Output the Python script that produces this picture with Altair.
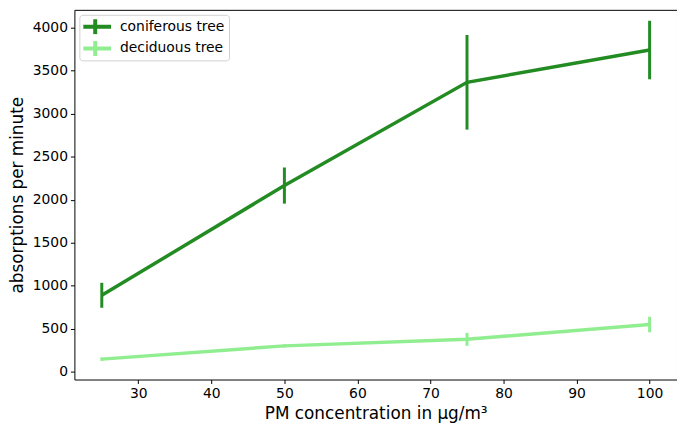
import altair as alt
import pandas as pd

pm = [25, 50, 75, 100]
coniferous = [890, 2165, 3365, 3740]
coniferous_err = [145, 210, 550, 340]
deciduous = [148, 302, 378, 550]
deciduous_err = [20, 18, 75, 90]
series = ["coniferous tree", "deciduous tree"]
colors = ["#228B22", "#90EE90"]
x_ticks = [30, 40, 50, 60, 70, 80, 90, 100]
y_ticks = [0, 500, 1000, 1500, 2000, 2500, 3000, 3500, 4000]

rows = []
for name, vals, errs in [(series[0], coniferous, coniferous_err), (series[1], deciduous, deciduous_err)]:
    for x, v, e in zip(pm, vals, errs):
        rows.append({"pm": x, "val": v, "lo": v - e, "hi": v + e, "tree": name})
df = pd.DataFrame(rows)

xs = alt.Scale(domain=[21.25, 103.75], nice=False, zero=False)
ys = alt.Scale(domain=[-89, 4207], nice=False, zero=False)
cs = alt.Scale(domain=series, range=colors)

legend = alt.Legend(
    title=None, orient="none", legendX=5, legendY=5,
    symbolType="M-2,0H2M0,-0.94V0.94", symbolSize=256, symbolStrokeWidth=4,
    fillColor="white", strokeColor="#d0d0d0", cornerRadius=3,
    padding=4, rowPadding=6, symbolOffset=2, clipHeight=16,
)

base = alt.Chart(df)

lines = base.mark_line(strokeWidth=3.5).encode(
    x=alt.X("pm:Q", scale=xs, axis=alt.Axis(values=x_ticks, format="d", title="PM concentration in μg/m³")),
    y=alt.Y("val:Q", scale=ys, axis=alt.Axis(values=y_ticks, format="d", title="absorptions per minute")),
    color=alt.Color("tree:N", scale=cs, legend=legend),
)

bars = base.mark_rule(strokeWidth=3).encode(
    x=alt.X("pm:Q", scale=xs),
    y=alt.Y("lo:Q", scale=ys),
    y2="hi:Q",
    color=alt.Color("tree:N", scale=cs, legend=legend),
)

chart = (bars + lines).properties(
    width=608, height=373, padding={"left": 0, "top": 0, "right": 0, "bottom": 0}
).configure_view(stroke="black", strokeWidth=1).configure_axis(
    grid=False, domain=False, tickColor="black", tickSize=4, tickWidth=1,
    labelFont="DejaVu Sans", labelFontSize=14, labelColor="black",
    titleFont="DejaVu Sans", titleFontSize=17, titleFontWeight="normal", titleColor="black",
    labelPadding=3,
).configure_axisX(titlePadding=5).configure_axisY(titlePadding=6).configure_legend(
    labelFont="DejaVu Sans", labelFontSize=14, labelColor="black", labelOffset=15,
)

chart.save("out.html", embed_options={"renderer": "svg", "actions": False})
